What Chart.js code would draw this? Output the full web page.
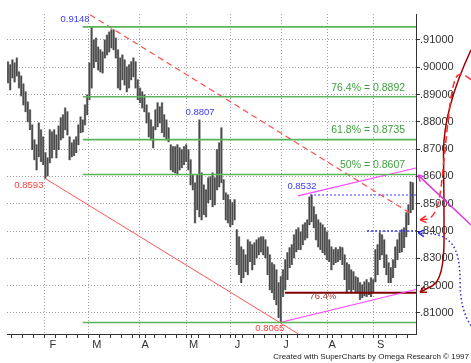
<!DOCTYPE html>
<html>
<head>
<meta charset="utf-8">
<script src="https://cdn.jsdelivr.net/npm/chart.js@4/dist/chart.umd.min.js"></script>
<style>
  html, body { margin: 0; padding: 0; background: #fff; }
  #wrap { width: 471px; height: 363px; }
</style>
</head>
<body>
<div id="wrap"><canvas id="chart" width="471" height="363"></canvas></div>
<script>
// Daily bars, index = trading day (Jan .. Sep)
const highs = [
  0.9020, 0.9009, 0.9027, 0.9016, 0.9034, 0.8983, 0.8968, 0.8939, 0.8910, 0.8873,
  0.8844, 0.8789, 0.8734, 0.8716, 0.8796, 0.8771, 0.8745, 0.8687, 0.8668, 0.8771,
  0.8763, 0.8771, 0.8752, 0.8785, 0.8815, 0.8826, 0.8851, 0.8837, 0.8745, 0.8723,
  0.8734, 0.8745, 0.8789, 0.8818, 0.8807, 0.8862, 0.8899, 0.9016, 0.9148, 0.9100,
  0.9107, 0.9074, 0.9064, 0.9056, 0.9100, 0.9118, 0.9129, 0.9137, 0.9137, 0.9107,
  0.9064, 0.9034, 0.9045, 0.9027, 0.9001, 0.9009, 0.9020, 0.9034, 0.9020, 0.8954,
  0.8924, 0.8910, 0.8899, 0.8862, 0.8833, 0.8807, 0.8782, 0.8844, 0.8870, 0.8855,
  0.8870, 0.8826, 0.8807, 0.8778, 0.8716, 0.8709, 0.8709, 0.8716, 0.8705, 0.8698,
  0.8709, 0.8716, 0.8698, 0.8661, 0.8606, 0.8577, 0.8606, 0.8807, 0.8613, 0.8569,
  0.8551, 0.8595, 0.8599, 0.8613, 0.8595, 0.8698, 0.8723, 0.8778, 0.8588, 0.8540,
  0.8533, 0.8515, 0.8504, 0.8515, 0.8405, 0.8379, 0.8342, 0.8332, 0.8313, 0.8368,
  0.8361, 0.8350, 0.8357, 0.8368, 0.8375, 0.8379, 0.8379, 0.8368, 0.8342, 0.8313,
  0.8284, 0.8277, 0.8258, 0.8211, 0.8233, 0.8258, 0.8295, 0.8321, 0.8339, 0.8350,
  0.8386, 0.8405, 0.8412, 0.8397, 0.8423, 0.8430, 0.8441, 0.8525, 0.8532, 0.8489,
  0.8460, 0.8441, 0.8430, 0.8423, 0.8412, 0.8397, 0.8368, 0.8342, 0.8332, 0.8339,
  0.8332, 0.8342, 0.8339, 0.8313, 0.8284, 0.8277, 0.8258, 0.8251, 0.8233, 0.8229,
  0.8211, 0.8203, 0.8214, 0.8222, 0.8211, 0.8229, 0.8222, 0.8332, 0.8350, 0.8394,
  0.8386, 0.8368, 0.8313, 0.8284, 0.8266, 0.8295, 0.8342, 0.8368, 0.8394, 0.8405,
  0.8412, 0.8467, 0.8496, 0.8580, 0.8577
];
const lows = [
  0.8943, 0.8917, 0.8961, 0.8946, 0.8968, 0.8924, 0.8895, 0.8862, 0.8837, 0.8800,
  0.8771, 0.8698, 0.8661, 0.8624, 0.8672, 0.8654, 0.8643, 0.8593, 0.8602, 0.8650,
  0.8668, 0.8698, 0.8668, 0.8698, 0.8734, 0.8741, 0.8771, 0.8752, 0.8661, 0.8672,
  0.8676, 0.8687, 0.8716, 0.8760, 0.8763, 0.8789, 0.8826, 0.8881, 0.8924, 0.8998,
  0.9020, 0.8990, 0.8983, 0.8979, 0.9034, 0.9045, 0.9056, 0.9071, 0.9064, 0.9034,
  0.8924, 0.8917, 0.8954, 0.8935, 0.8910, 0.8924, 0.8954, 0.8965, 0.8924, 0.8881,
  0.8870, 0.8851, 0.8837, 0.8796, 0.8745, 0.8734, 0.8705, 0.8771, 0.8782, 0.8796,
  0.8760, 0.8745, 0.8734, 0.8727, 0.8624, 0.8617, 0.8613, 0.8606, 0.8624, 0.8632,
  0.8643, 0.8654, 0.8624, 0.8569, 0.8551, 0.8430, 0.8478, 0.8452, 0.8441, 0.8460,
  0.8452, 0.8504, 0.8515, 0.8489, 0.8496, 0.8551, 0.8562, 0.8577, 0.8515, 0.8441,
  0.8430, 0.8416, 0.8423, 0.8441, 0.8277, 0.8240, 0.8211, 0.8229, 0.8251, 0.8240,
  0.8288, 0.8258, 0.8277, 0.8302, 0.8313, 0.8324, 0.8313, 0.8302, 0.8240, 0.8185,
  0.8174, 0.8149, 0.8130, 0.8083, 0.8065, 0.8160, 0.8185, 0.8222, 0.8266, 0.8277,
  0.8302, 0.8324, 0.8332, 0.8332, 0.8350, 0.8368, 0.8375, 0.8423, 0.8434, 0.8412,
  0.8368, 0.8342, 0.8332, 0.8321, 0.8313, 0.8295, 0.8288, 0.8258, 0.8277, 0.8284,
  0.8288, 0.8295, 0.8277, 0.8222, 0.8174, 0.8185, 0.8174, 0.8185, 0.8174, 0.8178,
  0.8149, 0.8156, 0.8163, 0.8160, 0.8167, 0.8160, 0.8174, 0.8214, 0.8240, 0.8295,
  0.8313, 0.8266, 0.8240, 0.8211, 0.8211, 0.8229, 0.8266, 0.8295, 0.8321, 0.8324,
  0.8339, 0.8379, 0.8423, 0.8467, 0.8478
];

// axes
const monthLabels = ['F', 'M', 'A', 'M', 'J', 'J', 'A', 'S'];
const monthStarts = [19, 39, 61, 83, 103, 125, 146, 168];
const yTicks = [0.81, 0.82, 0.83, 0.84, 0.85, 0.86, 0.87, 0.88, 0.89, 0.90, 0.91];
const xMin = -0.45, xMax = 185.45;
const yMin = 0.8023, yMax = 0.9195;

// retracement levels (green), start at the March high
const fibLevels = [0.9148, 0.8892, 0.8735, 0.8607, 0.8065];
const fibStart = 34;

// trend lines: [[x, price], [x, price]]
const redTrend = [[16.8, 0.8593], [132, 0.8023]];
const redDashed = [[37.3, 0.9192], [182.7, 0.8466]];
const magentaTop = [[131.8, 0.8529], [xMax, 0.8631]];
const magentaLow = [[123.6, 0.8065], [xMax, 0.8186]];
const retrace764 = [[125.9, 0.8174], [xMax, 0.8174]];
const blueHigh = [[137.3, 0.8532], [xMax, 0.8532]];
const blue84 = [[163.2, 0.8400], [xMax, 0.8400]];

// hand-drawn arrows right of the axis
const arrows = [
  { pts: [[210.45, 0.9063], [197.7, 0.8844], [198.2, 0.8514], [198.2, 0.8222], [187.3, 0.8176]], color: '#a00000', width: 1.5, dash: [] },
  { pts: [[210.45, 0.8954], [205.5, 0.8990], [201.8, 0.8935], [198.6, 0.8700], [196.5, 0.8520], [193, 0.8445], [187.3, 0.8441]], color: '#ff2a2a', width: 1.5, dash: [7, 4] },
  { pts: [[210.45, 0.8054], [205.5, 0.8112], [205.5, 0.8313], [198.6, 0.8386], [186.4, 0.8394]], color: '#2a2ad0', width: 1.5, dash: [1.5, 2.5] },
  { pts: [[210.5, 0.8422], [186.4, 0.8605]], color: '#dd33dd', width: 1.5, dash: [] }
];

const notes = [
  { text: '0.9148', at: [30.5, 0.9177], color: '#3a3aff', align: 'center', size: 9.5 },
  { text: '0.8807', at: [87.3, 0.8833], color: '#3a3aff', align: 'center', size: 9.5 },
  { text: '0.8532', at: [133.6, 0.8562], color: '#3a3aff', align: 'center', size: 9.5 },
  { text: '0.8593', at: [9.5, 0.8566], color: '#ff4040', align: 'center', size: 9.5 },
  { text: '0.8065', at: [119, 0.8042], color: '#ff4040', align: 'center', size: 9.5 },
  { text: '76.4%', at: [143.2, 0.8160], color: '#a04040', align: 'center', size: 9.5 },
  { text: '76.4% = 0.8892', at: [180.5, 0.8924], color: '#3f9f3f', align: 'right', size: 10.5 },
  { text: '61.8% = 0.8735', at: [180.5, 0.8771], color: '#3f9f3f', align: 'right', size: 10.5 },
  { text: '50% = 0.8607', at: [180.5, 0.8643], color: '#3f9f3f', align: 'right', size: 10.5 }
];

const FONT = '"Liberation Sans", Arial, sans-serif';

const segment = (pts, color, width, dash) => ({
  type: 'line',
  data: pts.map(p => ({ x: p[0], y: p[1] })),
  borderColor: color,
  borderWidth: width,
  borderDash: dash || [],
  pointRadius: 0,
  order: 0
});

const barData = highs.map((h, i) => ({ x: i, y: [lows[i], h] }));

const datasets = [
  { type: 'bar', data: barData, backgroundColor: '#4a4a4a', barThickness: 1, grouped: false, order: 1 },
  { type: 'bar', data: barData, backgroundColor: '#b8b8b8', barThickness: 2, grouped: false, order: 2 },
  ...fibLevels.map(v => segment([[fibStart, v], [xMax, v]], '#5ab55a', 1.6)),
  segment(redTrend, '#ff5555', 1),
  segment(redDashed, '#ff4d4d', 1.2, [6, 4]),
  segment(magentaTop, '#ff44ff', 1.2),
  segment(magentaLow, '#ff44ff', 1.2),
  segment(retrace764, '#800000', 2),
  segment(blueHigh, '#3333ff', 1, [2, 2]),
  segment(blue84, '#3333ff', 1.5, [2, 2])
];

const overlay = {
  id: 'overlay',
  afterDraw(chart) {
    const { ctx, scales: { x, y } } = chart;
    const toPx = p => [x.getPixelForValue(p[0]), y.getPixelForValue(p[1])];
    ctx.save();

    arrows.forEach(a => {
      const pts = a.pts.map(toPx);
      ctx.strokeStyle = a.color;
      ctx.lineWidth = a.width;
      ctx.setLineDash(a.dash);
      ctx.beginPath();
      ctx.moveTo(pts[0][0], pts[0][1]);
      for (let i = 1; i < pts.length - 1; i++) {
        const mx = (pts[i][0] + pts[i + 1][0]) / 2;
        const my = (pts[i][1] + pts[i + 1][1]) / 2;
        ctx.quadraticCurveTo(pts[i][0], pts[i][1], mx, my);
      }
      const end = pts[pts.length - 1];
      ctx.lineTo(end[0], end[1]);
      ctx.stroke();

      // open arrow head
      const prev = pts[pts.length - 2];
      const ang = Math.atan2(end[1] - prev[1], end[0] - prev[0]);
      ctx.setLineDash([]);
      ctx.beginPath();
      [-0.5, 0.5].forEach(d => {
        ctx.moveTo(end[0], end[1]);
        ctx.lineTo(end[0] - 7 * Math.cos(ang + d), end[1] - 7 * Math.sin(ang + d));
      });
      ctx.stroke();
    });

    ctx.textBaseline = 'middle';
    notes.forEach(n => {
      const [px, py] = toPx(n.at);
      ctx.font = `${n.size}px ${FONT}`;
      ctx.fillStyle = n.color;
      ctx.textAlign = n.align;
      ctx.fillText(n.text, px, py);
    });

    ctx.font = `8px ${FONT}`;
    ctx.fillStyle = '#222';
    ctx.textAlign = 'right';
    ctx.textBaseline = 'alphabetic';
    ctx.fillText('Created with SuperCharts by Omega Research \u00a9 1997', 469, 359);
    ctx.restore();
  }
};

const xTickValues = [];
for (let i = 4; i < xMax; i += 5) xTickValues.push(i);
monthStarts.forEach(m => { if (!xTickValues.includes(m)) xTickValues.push(m); });
xTickValues.sort((a, b) => a - b);

new Chart(document.getElementById('chart'), {
  type: 'bar',
  data: { datasets },
  plugins: [overlay],
  options: {
    responsive: false,
    animation: false,
    events: [],
    layout: { padding: { left: 7, top: 14, right: 0, bottom: 0 } },
    plugins: { legend: { display: false }, tooltip: { enabled: false } },
    scales: {
      x: {
        type: 'linear',
        min: xMin,
        max: xMax,
        offset: false,
        afterBuildTicks: s => { s.ticks = xTickValues.map(v => ({ value: v })); },
        afterFit: s => { s.height = 29; },
        ticks: {
          autoSkip: false,
          maxRotation: 0,
          padding: 0,
          labelOffset: 3,
          color: '#333',
          font: { family: FONT, size: 11 },
          callback: v => {
            const k = monthStarts.indexOf(v);
            return k >= 0 ? monthLabels[k] : '';
          }
        },
        grid: {
          color: c => (c.tick && monthStarts.includes(c.tick.value)) ? '#a0a0a0' : 'rgba(0,0,0,0)',
          tickColor: '#333',
          tickLength: 4,
          lineWidth: 1
        },
        border: { display: true, color: '#333', width: 1, dash: [1, 2] }
      },
      y: {
        position: 'right',
        min: yMin,
        max: yMax,
        afterBuildTicks: s => { s.ticks = yTicks.map(v => ({ value: v })); },
        afterFit: s => { s.width = 55; },
        ticks: {
          padding: 0,
          color: '#333',
          font: { family: FONT, size: 11 },
          callback: v => v.toFixed(5).replace(/^0/, '')
        },
        grid: { color: '#a0a0a0', tickColor: '#333', tickLength: 4, lineWidth: 1 },
        border: { display: true, color: '#333', width: 1, dash: [1, 2] }
      }
    }
  }
});
</script>
</body>
</html>
